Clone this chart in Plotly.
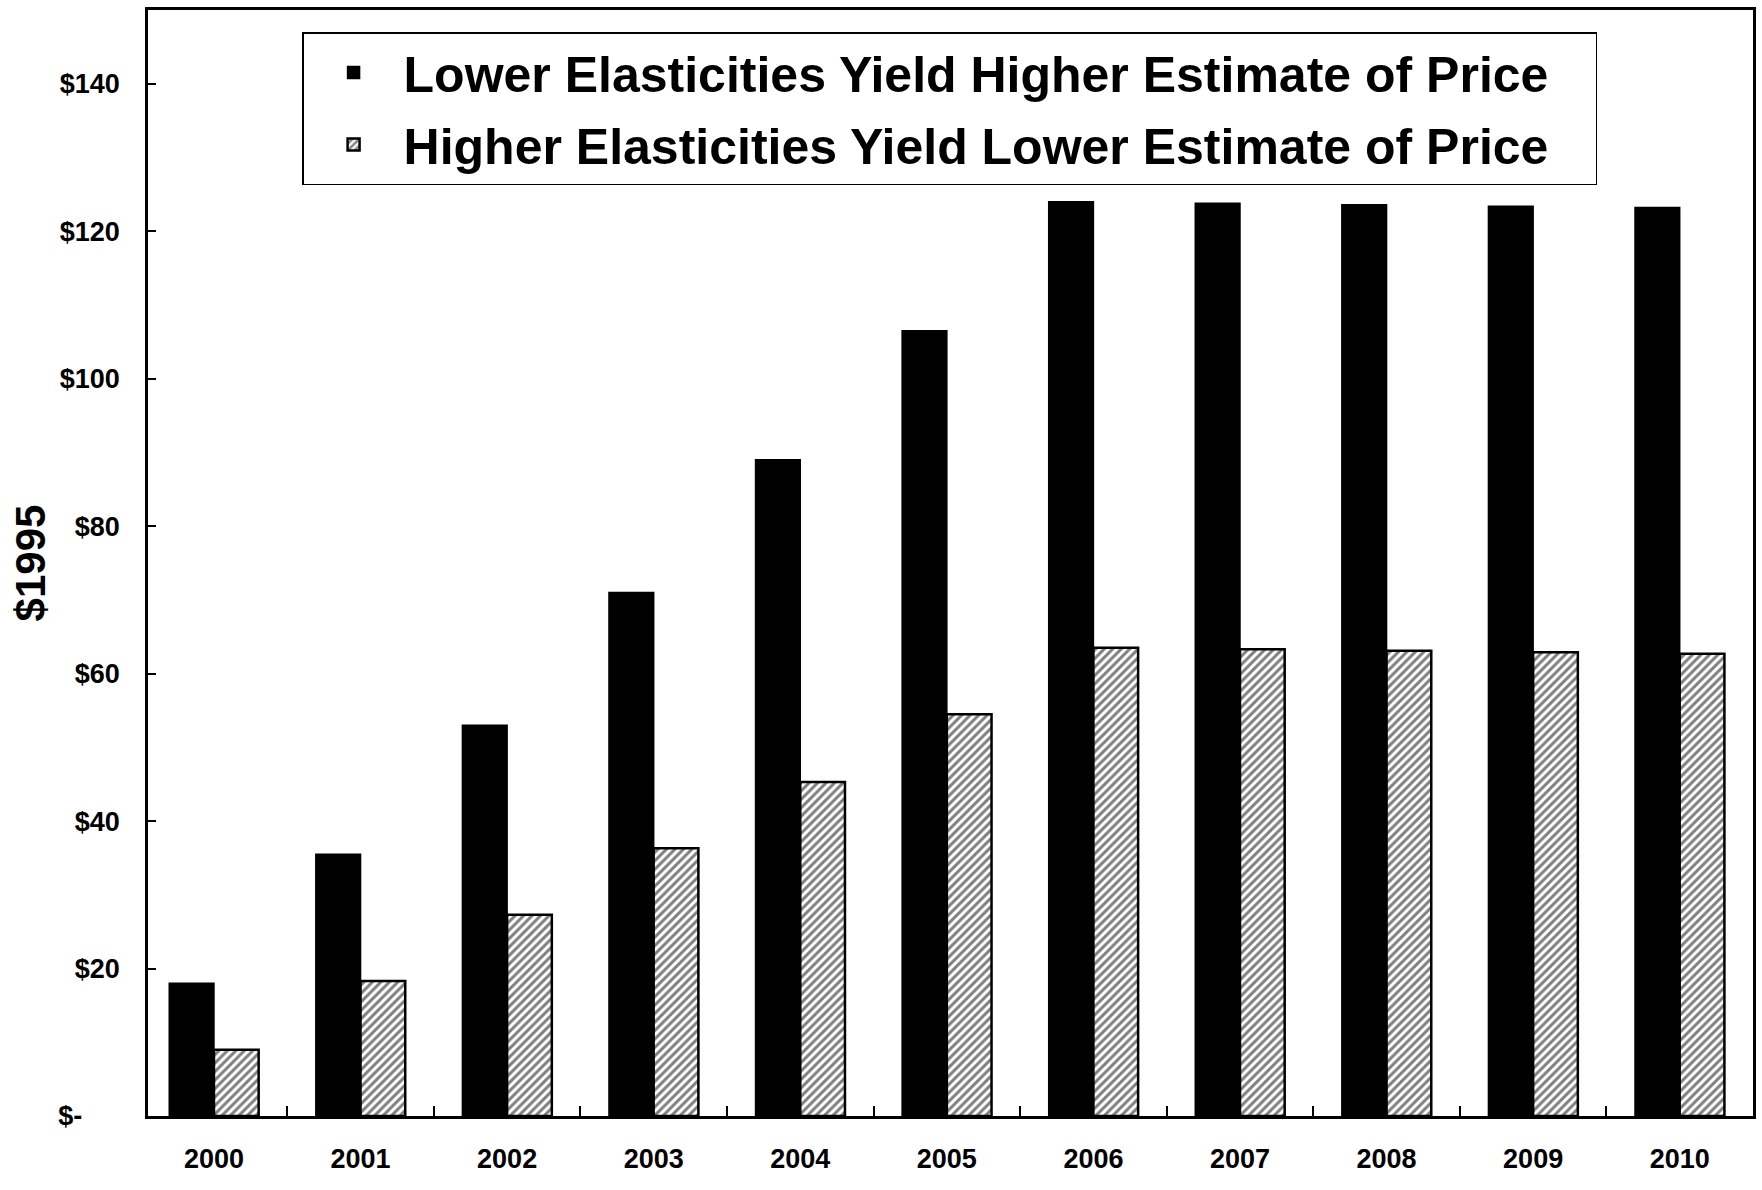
import plotly.graph_objects as go

years = ["2000", "2001", "2002", "2003", "2004", "2005", "2006", "2007", "2008", "2009", "2010"]
lower_elasticity = [18, 35.5, 53, 71, 89, 106.5, 124, 123.8, 123.6, 123.4, 123.2]
higher_elasticity = [9, 18.3, 27.3, 36.3, 45.3, 54.5, 63.5, 63.3, 63.1, 62.9, 62.7]
ytick_vals = [0, 20, 40, 60, 80, 100, 120, 140]
ytick_text = ["$-\u2007\u2007\u00a0", "$20", "$40", "$60", "$80", "$100", "$120", "$140"]
series_names = ["Lower Elasticities Yield Higher Estimate of Price",
                "Higher Elasticities Yield Lower Estimate of Price"]

FONT = "Liberation Sans, Arial, sans-serif"
PAD = "\u00a0\u00a0\u00a0"

fig = go.Figure()
fig.add_trace(go.Bar(
    x=years, y=lower_elasticity, name=series_names[0] + PAD, legendgroup="a",
    marker=dict(color="black", line=dict(color="black", width=1.5)),
))
fig.add_trace(go.Bar(
    x=years, y=higher_elasticity, name=series_names[1] + PAD, legendgroup="b",
    marker=dict(color="white", line=dict(color="black", width=2.5),
                pattern=dict(shape="/", fgcolor="black", bgcolor="white", size=6, solidity=0.5)),
))

fig.update_layout(
    width=1762, height=1190,
    margin=dict(l=148, r=6, t=10, b=74),
    paper_bgcolor="white", plot_bgcolor="white",
    barmode="group", bargap=0.39, bargroupgap=0,
    font=dict(family=FONT, color="black"),
    showlegend=True,
    legend=dict(
        x=0.096, y=0.98, xanchor="left", yanchor="top",
        bgcolor="white", bordercolor="black", borderwidth=1.5,
        font=dict(family=FONT, size=50, color="black", weight="bold"),
        traceorder="grouped", tracegroupgap=4, itemwidth=90,
    ),
    xaxis=dict(
        range=[-0.45, 10.5],
        showline=True, linecolor="black", linewidth=2.5, mirror=True,
        ticks="inside", tickson="boundaries", ticklen=10, tickwidth=2, tickcolor="black",
        tickfont=dict(family=FONT, size=27, color="black", weight="bold"),
        ticklabelstandoff=17, showgrid=False,
    ),
    yaxis=dict(
        range=[0, 150], showline=True, linecolor="black", linewidth=2.5, mirror=True,
        tickvals=ytick_vals, ticktext=ytick_text,
        ticks="inside", ticklen=8, tickwidth=2, tickcolor="black",
        tickfont=dict(family=FONT, size=27, color="black", weight="bold"),
        ticklabelstandoff=20, showgrid=False, zeroline=False,
        title=dict(text="$1995", font=dict(family=FONT, size=42, color="black", weight="bold"), standoff=0),
    ),
)

fig.write_html("out.html")
